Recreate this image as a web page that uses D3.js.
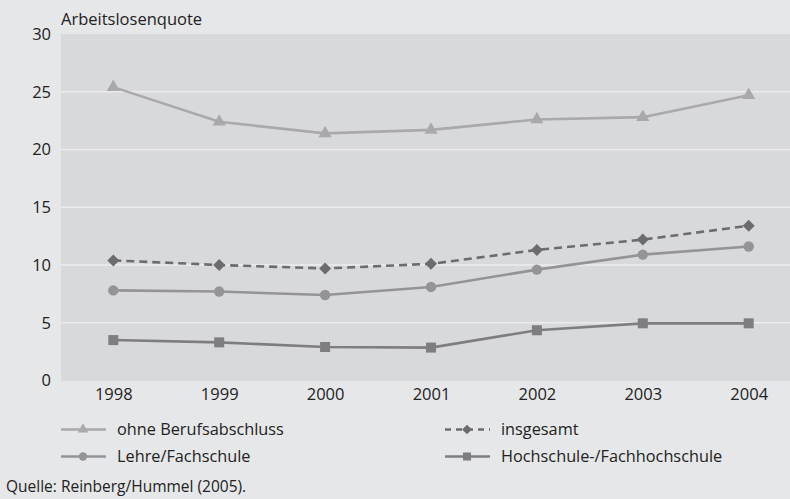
<!DOCTYPE html>
<html><head><meta charset="utf-8">
<script src="https://cdn.jsdelivr.net/npm/d3@7"></script>
<style>
html,body{margin:0;padding:0;background:#e6e7e8;}
svg{display:block;font-family:"Open Sans",sans-serif;}
</style></head>
<body>
<svg id="chart" width="790" height="499"></svg>
<script>
const years = ["1998","1999","2000","2001","2002","2003","2004"];
const ohneBerufsabschluss = [25.4, 22.4, 21.4, 21.7, 22.6, 22.8, 24.7];
const insgesamt = [10.4, 10.0, 9.7, 10.1, 11.3, 12.2, 13.4];
const lehreFachschule = [7.8, 7.7, 7.4, 8.1, 9.6, 10.9, 11.6];
const hochschule = [3.5, 3.3, 2.9, 2.85, 4.35, 4.95, 4.95];
const yTicks = [0, 5, 10, 15, 20, 25, 30];
const seriesNames = ["ohne Berufsabschluss", "insgesamt", "Lehre/Fachschule", "Hochschule-/Fachhochschule"];

const svg = d3.select("#chart");
const plot = {left: 61, right: 790, top: 34, bottom: 381};
const FONT = "Open Sans";

const x = d3.scalePoint().domain(years).range([113.3, 748.7]);
const y = d3.scaleLinear().domain([0, 30]).range([380.5, 34]);

svg.append("rect").attr("x", plot.left).attr("y", plot.top)
  .attr("width", plot.right - plot.left).attr("height", plot.bottom - plot.top)
  .attr("fill", "#d8d9db");

svg.append("g").selectAll("line").data(yTicks.filter(d => d > 0 && d < 30)).join("line")
  .attr("x1", plot.left).attr("x2", plot.right)
  .attr("y1", d => y(d)).attr("y2", d => y(d))
  .attr("stroke", "#ececed").attr("stroke-width", 1.5);

const yAxis = svg.append("g").attr("transform", `translate(${plot.left},0)`)
  .call(d3.axisLeft(y).tickValues(yTicks).tickSize(0).tickPadding(10));
yAxis.select(".domain").remove();
yAxis.selectAll("text").attr("font-size", 16.5).attr("fill", "#222").attr("font-family", FONT);

const xAxis = svg.append("g").attr("transform", `translate(0,${plot.bottom})`)
  .call(d3.axisBottom(x).tickSize(0).tickPadding(7));
xAxis.select(".domain").remove();
xAxis.selectAll("text").attr("font-size", 16.5).attr("fill", "#222").attr("font-family", FONT);

svg.append("text").attr("x", 61).attr("y", 25).attr("font-size", 16.5).attr("fill", "#222")
  .text("Arbeitslosenquote");

const series = [
  {name: seriesNames[0], values: ohneBerufsabschluss, color: "#a9a9ab", marker: "triangle", dash: null},
  {name: seriesNames[1], values: insgesamt, color: "#6c6c6f", marker: "diamond", dash: "8,5"},
  {name: seriesNames[2], values: lehreFachschule, color: "#949497", marker: "circle", dash: null},
  {name: seriesNames[3], values: hochschule, color: "#7e7e81", marker: "square", dash: null}
];

const symbolType = {triangle: d3.symbolTriangle, diamond: d3.symbolSquare, circle: d3.symbolCircle, square: d3.symbolSquare};
const symbolSize = {triangle: 75, diamond: 72, circle: 85, square: 100};
const symbolRot = {triangle: 0, diamond: 45, circle: 0, square: 0};

const line = d3.line().x((d, i) => x(years[i])).y(d => y(d));

series.forEach(s => {
  svg.append("path").datum(s.values).attr("d", line)
    .attr("fill", "none").attr("stroke", s.color).attr("stroke-width", 2.6)
    .attr("stroke-dasharray", s.dash);
  svg.append("g").selectAll("path").data(s.values).join("path")
    .attr("transform", (d, i) => `translate(${x(years[i])},${y(d)}) rotate(${symbolRot[s.marker]})`)
    .attr("d", d3.symbol().type(symbolType[s.marker]).size(symbolSize[s.marker]))
    .attr("fill", s.color);
});

const legendPos = [
  {lx: 61, ly: 429.5},
  {lx: 445, ly: 429.5},
  {lx: 61, ly: 456.5},
  {lx: 445, ly: 456.5}
];
series.forEach((s, i) => {
  const p = legendPos[i];
  const g = svg.append("g").attr("transform", `translate(${p.lx},${p.ly})`);
  g.append("line").attr("x1", 0).attr("x2", 45).attr("y1", 0).attr("y2", 0)
    .attr("stroke", s.color).attr("stroke-width", 2.6).attr("stroke-dasharray", s.dash ? "6,5" : null);
  g.append("path").attr("transform", `translate(22,0) rotate(${symbolRot[s.marker]})`)
    .attr("d", d3.symbol().type(symbolType[s.marker]).size(symbolSize[s.marker] * 0.65))
    .attr("fill", s.color);
  g.append("text").attr("x", 56).attr("y", 5).attr("font-size", 16.3).attr("fill", "#222").text(s.name);
});

svg.append("text").attr("x", 6).attr("y", 492).attr("font-size", 15.5).attr("fill", "#222")
  .text("Quelle: Reinberg/Hummel (2005).");
</script>
</body></html>
